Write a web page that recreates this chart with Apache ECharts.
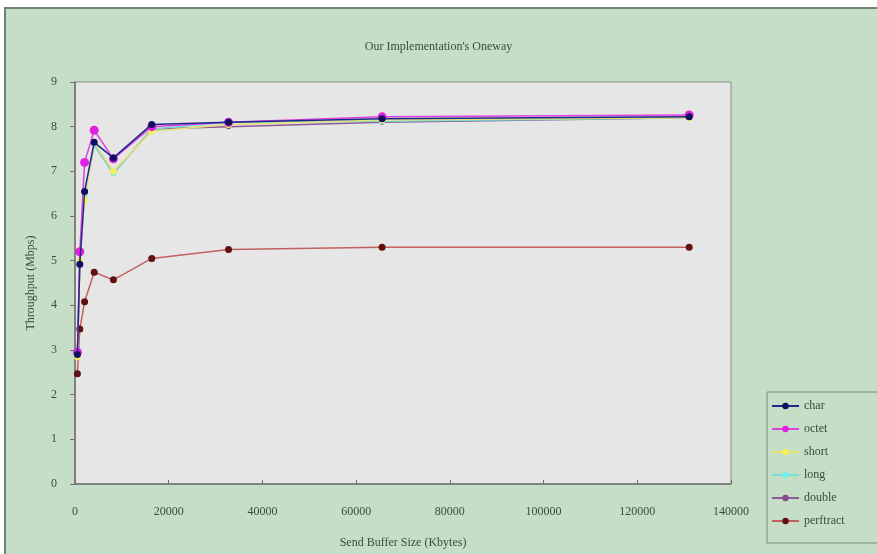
<!DOCTYPE html>
<html>
<head>
<meta charset="utf-8">
<script src="https://cdn.jsdelivr.net/npm/echarts@6/dist/echarts.min.js"></script>
<style>
  html, body { margin: 0; padding: 0; background: #ffffff; }
  #chart { width: 877px; height: 554px; }
</style>
</head>
<body>
<div id="chart"></div>
<script>
// Send buffer sizes (Kbytes)
var bufferSizes = [512, 1024, 2048, 4096, 8192, 16384, 32768, 65536, 131072];

// Throughput (Mbps) per data type
var charVals      = [2.90, 4.92, 6.55, 7.65, 7.30, 8.05, 8.10, 8.18, 8.22];
var octetVals     = [2.95, 5.20, 7.20, 7.92, 7.28, 8.00, 8.10, 8.22, 8.26];
var shortVals     = [2.85, 5.00, 6.35, 7.65, 7.00, 7.90, 8.05, 8.15, 8.20];
var longVals      = [2.85, 5.00, 6.45, 7.60, 6.95, 7.95, 8.10, 8.12, 8.20];
var doubleVals    = [2.85, 4.95, 6.50, 7.60, 6.95, 7.95, 8.00, 8.10, 8.20];
var perftractVals = [2.47, 3.47, 4.08, 4.74, 4.57, 5.05, 5.25, 5.30, 5.30];

var seriesNames = ['char', 'octet', 'short', 'long', 'double', 'perftract'];
var seriesVals = [charVals, octetVals, shortVals, longVals, doubleVals, perftractVals];

var lineColors   = ['#1a2a8a', '#e040e0', '#e8e070', '#70e0d8', '#8a5a9a', '#c06060'];
var markerColors = ['#101060', '#e020e0', '#f0f060', '#70f0e8', '#8a4a8a', '#601010'];
var markerSizes  = [7, 9, 7, 6, 5, 7];

var FONT = 'Liberation Serif';
var TEXT = '#3c4a3c';

var chart = echarts.init(document.getElementById('chart'), null, { renderer: 'canvas' });

var series = seriesNames.map(function (name, i) {
  return {
    name: name,
    type: 'line',
    data: bufferSizes.map(function (x, k) { return [x, seriesVals[i][k]]; }),
    symbol: 'circle',
    symbolSize: markerSizes[i],
    showSymbol: true,
    lineStyle: { color: lineColors[i], width: 1.5 },
    itemStyle: { color: markerColors[i] },
    z: i === 5 ? 3 : 10 - i,
    animation: false
  };
});

chart.setOption({
  animation: false,
  graphic: [
    {
      type: 'rect',
      z: -10,
      silent: true,
      shape: { x: 5, y: 8, width: 880, height: 560 },
      style: { fill: '#c5dec5', stroke: '#6f836f', lineWidth: 2 }
    }
  ],
  title: {
    text: "Our Implementation's Oneway",
    left: 'center',
    top: 36,
    textStyle: { fontFamily: FONT, fontSize: 12, fontWeight: 'normal', color: TEXT }
  },
  grid: {
    left: 75, top: 82, width: 656, height: 404,
    show: true,
    backgroundColor: '#e6e6e6',
    borderColor: '#8c8c8c',
    borderWidth: 1
  },
  legend: {
    orient: 'vertical',
    left: 767,
    top: 392,
    itemWidth: 27,
    itemHeight: 8,
    itemGap: 11,
    padding: [8, 40, 16, 4],
    backgroundColor: '#c5dec5',
    borderColor: '#7a8a7a',
    borderWidth: 1,
    data: seriesNames,
    textStyle: { fontFamily: FONT, fontSize: 12, color: TEXT }
  },
  xAxis: {
    type: 'value',
    min: 0,
    max: 140000,
    interval: 20000,
    name: 'Send Buffer Size (Kbytes)',
    nameLocation: 'middle',
    nameGap: 53,
    nameTextStyle: { fontFamily: FONT, fontSize: 12, color: TEXT },
    axisLine: { show: true, lineStyle: { color: '#707070', width: 1.5 } },
    axisTick: { show: true, inside: true, length: 4, lineStyle: { color: '#707070' } },
    axisLabel: {
      margin: 22, fontFamily: FONT, fontSize: 12, color: TEXT,
      formatter: function (v) { return String(v); }
    },
    splitLine: { show: false }
  },
  yAxis: {
    type: 'value',
    min: 0,
    max: 9,
    interval: 1,
    name: 'Throughput (Mbps)',
    nameLocation: 'middle',
    nameGap: 38,
    nameRotate: 90,
    nameTextStyle: { fontFamily: FONT, fontSize: 12, color: TEXT },
    axisLine: { show: true, lineStyle: { color: '#707070', width: 1.5 } },
    axisTick: { show: true, length: 5, lineStyle: { color: '#707070' } },
    axisLabel: { margin: 18, fontFamily: FONT, fontSize: 12, color: TEXT },
    splitLine: { show: false }
  },
  series: series
});
</script>
</body>
</html>
